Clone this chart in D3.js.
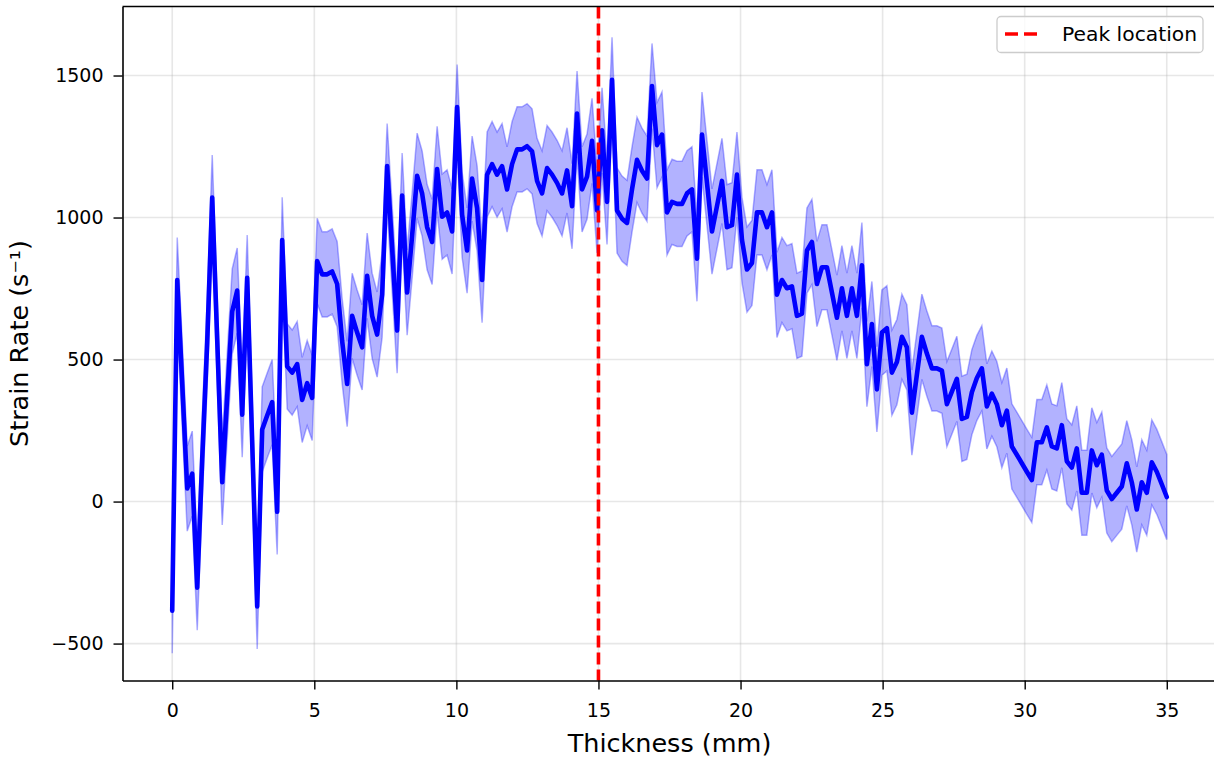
<!DOCTYPE html>
<html>
<head>
<meta charset="utf-8">
<script src="https://cdn.jsdelivr.net/npm/d3@7"></script>
<style>
  body { margin: 0; background: #fff; }
  text { font-family: "DejaVu Sans", sans-serif; fill: #000; }
</style>
</head>
<body>
<svg id="chart"></svg>
<script>
// thickness grid: 200 samples from 0 to 35 mm
var nPoints = 200;
var thicknessMax = 35;

// mean strain rate (1/s)
var strainMean = [
    -384, 780, 414, 46, 98, -303, 150, 560, 1070, 570,
    68, 370, 669, 743, 306, 788, 209, -369, 254, 303,
    350, -36, 921, 476, 454, 484, 358, 417, 365, 847,
    800, 800, 810, 766, 565, 414, 654, 595, 543, 795,
    654, 588, 728, 1181, 892, 602, 1077, 736, 936, 1147,
    1085, 966, 914, 1171, 1003, 1018, 951, 1389, 1010, 884,
    1137, 1033, 780, 1151, 1188, 1151, 1181, 1099, 1188, 1240,
    1240, 1251, 1233, 1129, 1085, 1174, 1151, 1122, 1085, 1166,
    1040, 1366, 1099, 1144, 1270, 1025, 1307, 1055, 1485, 1025,
    996, 981, 1099, 1203, 1165, 1137, 1463, 1255, 1292, 1018,
    1055, 1048, 1048, 1085, 1099, 855, 1292, 1122, 951, 1040,
    1129, 966, 973, 1151, 921, 817, 840, 1018, 1018, 966,
    1018, 728, 780, 751, 758, 654, 662, 884, 914, 766,
    825, 825, 736, 647, 751, 654, 751, 654, 832, 484,
    625, 395, 595, 610, 454, 491, 580, 543, 313, 447,
    580, 521, 469, 469, 461, 343, 387, 432, 291, 298,
    385, 435, 469, 335, 380, 343, 269, 320, 194, 165,
    135, 105, 76, 209, 209, 261, 194, 187, 269, 142,
    120, 187, 31, 31, 180, 128, 165, 39, 9, 31,
    53, 135, 68, -28, 68, 31, 138, 105, 61, 16
];

// half width of the shaded band (std), about the same everywhere
var bandHalfWidth = 150;

var peakThickness = 15;

var xTicks = [0, 5, 10, 15, 20, 25, 30, 35];
var yTicks = [-500, 0, 500, 1000, 1500];

var width = 1214;
var height = 761;

var svg = d3.select("#chart")
    .attr("width", width)
    .attr("height", height);

var plotLeft = 122.5, plotRight = 1216.5, plotTop = 6.5, plotBottom = 680.5;

var x = d3.scaleLinear()
    .domain([-1.75, 36.75])
    .range([plotLeft, plotRight]);

var y = d3.scaleLinear()
    .domain([-630, 1743])
    .range([plotBottom, plotTop]);

var data = strainMean.map(function (v, i) {
    return {
        t: thicknessMax * i / (nPoints - 1),
        mean: v,
        lo: v - bandHalfWidth,
        hi: v + bandHalfWidth
    };
});

// grid
svg.append("g")
    .selectAll("line")
    .data(xTicks)
    .enter().append("line")
    .attr("x1", function (d) { return x(d); })
    .attr("x2", function (d) { return x(d); })
    .attr("y1", plotTop)
    .attr("y2", plotBottom)
    .style("stroke", "#b0b0b0")
    .style("stroke-opacity", 0.3)
    .style("stroke-width", 1.6);

svg.append("g")
    .selectAll("line")
    .data(yTicks)
    .enter().append("line")
    .attr("x1", plotLeft)
    .attr("x2", plotRight)
    .attr("y1", function (d) { return y(d); })
    .attr("y2", function (d) { return y(d); })
    .style("stroke", "#b0b0b0")
    .style("stroke-opacity", 0.3)
    .style("stroke-width", 1.6);

// band
var area = d3.area()
    .x(function (d) { return x(d.t); })
    .y0(function (d) { return y(d.lo); })
    .y1(function (d) { return y(d.hi); });

svg.append("path")
    .datum(data)
    .attr("d", area)
    .style("fill", "blue")
    .style("fill-opacity", 0.3)
    .style("stroke", "blue")
    .style("stroke-opacity", 0.3)
    .style("stroke-width", 1.5);

// mean line
var line = d3.line()
    .x(function (d) { return x(d.t); })
    .y(function (d) { return y(d.mean); });

svg.append("path")
    .datum(data)
    .attr("d", line)
    .style("fill", "none")
    .style("stroke", "blue")
    .style("stroke-width", 4.6)
    .style("stroke-linejoin", "round")
    .style("stroke-linecap", "round");

// peak marker
svg.append("line")
    .attr("x1", x(peakThickness))
    .attr("x2", x(peakThickness))
    .attr("y1", plotTop)
    .attr("y2", plotBottom)
    .style("stroke", "red")
    .style("stroke-width", 3.6)
    .style("stroke-dasharray", "12,5");

// axes
var xAxis = svg.append("g")
    .attr("transform", "translate(0," + plotBottom + ")")
    .call(d3.axisBottom(x).tickValues(xTicks).tickSize(9).tickSizeOuter(0).tickPadding(14));

var yAxis = svg.append("g")
    .attr("transform", "translate(" + plotLeft + ",0)")
    .call(d3.axisLeft(y).tickValues(yTicks).tickSize(9).tickSizeOuter(0).tickPadding(10)
        .tickFormat(function (d) { return d < 0 ? "\u2212" + Math.abs(d) : d; }));

[xAxis, yAxis].forEach(function (ax) {
    ax.select(".domain").style("stroke", "#000").style("stroke-width", 1.6);
    ax.selectAll(".tick line").style("stroke", "#000").style("stroke-width", 1.4);
    ax.selectAll(".tick text")
        .style("font-size", "19px")
        .style("font-family", "DejaVu Sans")
        .style("fill", "#000");
});

// top spine
svg.append("line")
    .attr("x1", plotLeft)
    .attr("x2", plotRight)
    .attr("y1", plotTop)
    .attr("y2", plotTop)
    .style("stroke", "#000")
    .style("stroke-width", 1.6);

// labels
svg.append("text")
    .attr("x", (plotLeft + plotRight) / 2)
    .attr("y", 752)
    .attr("text-anchor", "middle")
    .style("font-size", "25.5px")
    .text("Thickness (mm)");

svg.append("text")
    .attr("transform", "translate(28," + ((plotTop + plotBottom) / 2) + ") rotate(-90)")
    .attr("text-anchor", "middle")
    .style("font-size", "25.5px")
    .text("Strain Rate (s\u207B\u00B9)");

// legend
var legend = svg.append("g");

legend.append("rect")
    .attr("x", 997)
    .attr("y", 16.5)
    .attr("width", 206)
    .attr("height", 36)
    .attr("rx", 4)
    .style("fill", "#fff")
    .style("fill-opacity", 0.8)
    .style("stroke", "#cccccc")
    .style("stroke-width", 1.3);

legend.append("line")
    .attr("x1", 1005)
    .attr("x2", 1043)
    .attr("y1", 34)
    .attr("y2", 34)
    .style("stroke", "red")
    .style("stroke-width", 3.6)
    .style("stroke-dasharray", "13,6");

legend.append("text")
    .attr("x", 1062)
    .attr("y", 41)
    .style("font-size", "20.3px")
    .text("Peak location");
</script>
</body>
</html>
